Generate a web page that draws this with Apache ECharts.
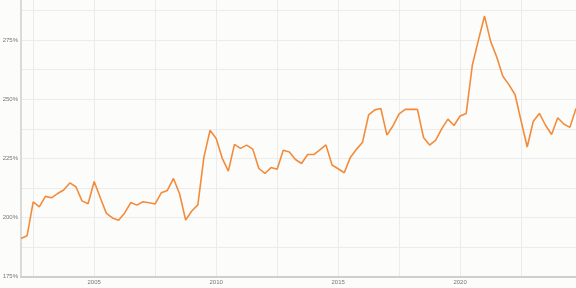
<!DOCTYPE html>
<html>
<head>
<meta charset="utf-8">
<script src="https://cdn.jsdelivr.net/npm/echarts@6/dist/echarts.min.js"></script>
<style>
html,body{margin:0;padding:0;background:#fcfcfa;}
#chart{width:576px;height:288px;}
</style>
</head>
<body>
<div id="chart"></div>
<script>
// Quarterly series starting 2002 Q1
const startYear = 2002;
const values = [
  191.1, 192.2, 206.6, 204.5, 208.9, 208.3, 210.1, 211.6, 214.6, 213.0, 207.0, 205.8,
  215.2, 208.3, 201.7, 199.8, 198.8, 201.9, 206.3, 205.2, 206.6, 206.2, 205.7, 210.4,
  211.4, 216.5, 210.0, 198.9, 202.7, 205.3, 225.6, 236.9, 233.4, 225.0, 219.6, 230.9,
  229.2, 230.6, 228.9, 220.7, 218.6, 221.1, 220.4, 228.4, 227.7, 224.5, 222.8, 226.6,
  226.6, 228.6, 230.7, 222.2, 220.6, 218.9, 225.4, 228.8, 231.8, 243.4, 245.5, 246.1,
  234.8, 238.8, 243.8, 245.7, 245.7, 245.7, 233.8, 230.6, 232.7, 237.6, 241.6, 238.9,
  242.9, 244.0, 264.4, 275.0, 285.2, 274.5, 267.9, 259.7, 256.2, 252.0, 240.8, 229.8,
  240.7, 244.0, 239.0, 235.1, 242.2, 239.5, 238.1, 246.1
];
const xLabelYears = [2005, 2010, 2015, 2020];
const xGridYears = [2002.5, 2005, 2007.5, 2010, 2012.5, 2015, 2017.5, 2020, 2022.5];
const yMin = 175, yMax = 292, yStep = 12.5;

const seriesData = values.map((v, i) => [startYear + i / 4, v]);

const chart = echarts.init(document.getElementById('chart'), null, {renderer: 'canvas'});
chart.setOption({
  backgroundColor: '#fcfcfa',
  animation: false,
  grid: {left: 21, right: 0, top: 0, bottom: 11.5, containLabel: false, outerBoundsMode: 'none'},
  xAxis: {
    type: 'value',
    min: 2002,
    max: 2024.75,
    axisLine: {show: true, lineStyle: {color: '#cfcfcf', width: 2}},
    axisTick: {show: false, customValues: xGridYears},
    axisLabel: {
      customValues: xLabelYears,
      color: '#777',
      fontSize: 6,
      fontFamily: 'Liberation Sans, Arial, sans-serif',
      margin: 3,
      formatter: v => String(v)
    },
    splitLine: {show: true, lineStyle: {color: '#ececec', width: 1}}
  },
  yAxis: {
    type: 'value',
    min: yMin,
    max: yMax,
    interval: yStep,
    axisLine: {show: true, lineStyle: {color: '#cfcfcf', width: 1.5}},
    axisTick: {show: false},
    axisLabel: {
      color: '#777',
      fontSize: 6,
      fontFamily: 'Liberation Sans, Arial, sans-serif',
      margin: 3,
      showMaxLabel: false,
      formatter: v => (v % 25 === 0 ? v + '%' : '')
    },
    splitLine: {show: true, showMaxLine: false, lineStyle: {color: '#ececec', width: 1}}
  },
  series: [{
    type: 'line',
    data: seriesData,
    showSymbol: false,
    symbol: 'none',
    lineStyle: {color: '#f28c3c', width: 1.6},
    itemStyle: {color: '#f28c3c'}
  }]
});
</script>
</body>
</html>
